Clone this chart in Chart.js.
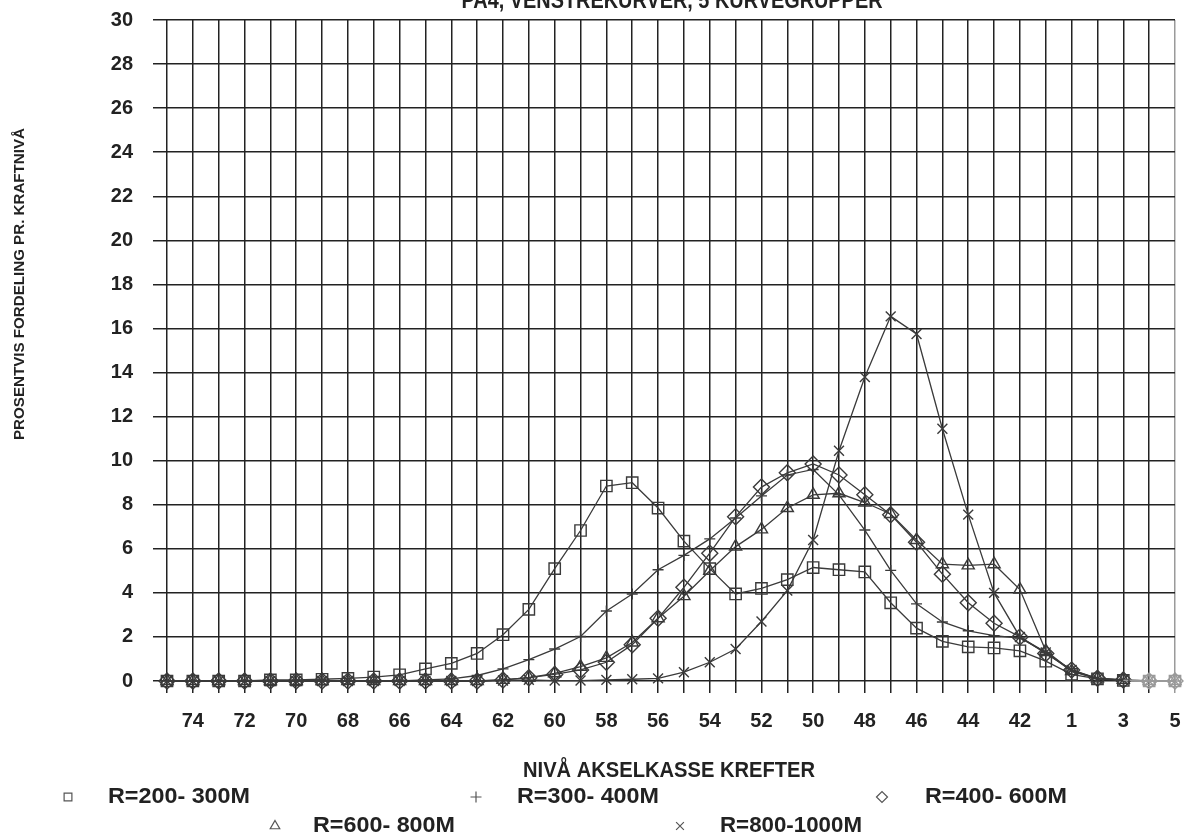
<!DOCTYPE html>
<html>
<head>
<meta charset="utf-8">
<script src="https://cdn.jsdelivr.net/npm/chart.js@4.4.1/dist/chart.umd.min.js"></script>
<style>
  html, body { margin: 0; padding: 0; background: #fff; overflow: hidden; }
  #wrap { position: absolute; left: 0; top: 0; width: 1189px; height: 836px; }
</style>
</head>
<body>
<div id="wrap"><canvas id="c" width="1189" height="836"></canvas></div>
<script>
// Force levels along the x axis (every second one is labelled)
const categories = ['75','74','73','72','71','70','69','68','67','66','65','64','63','62','61','60',
  '59','58','57','56','55','54','53','52','51','50','49','48','47','46','45','44','43','42','41',
  '1','2','3','4','5'];

// Percentage distribution per force level, one array per curve-radius group
const r200_300 = [0,0,0,0,0.05,0.05,0.08,0.12,0.18,0.28,0.55,0.8,1.25,2.1,3.25,5.1,
  6.83,8.85,9.0,7.85,6.35,5.1,3.95,4.2,4.6,5.15,5.05,4.95,3.55,2.4,1.8,1.55,1.5,1.37,0.9,
  0.3,0.1,0.03,0,0];
const r300_400 = [0,0,0,0,0,0,0,0,0,0,0.05,0.1,0.25,0.55,0.97,1.45,
  2.02,3.18,3.95,5.05,5.7,6.45,7.4,8.4,9.35,9.6,8.45,6.85,5.02,3.5,2.68,2.28,2.06,1.95,1.3,
  0.45,0.1,0.05,0,0];
const r400_600 = [0,0,0,0,0,0,0,0,0,0,0,0,0,0.05,0.15,0.3,
  0.5,0.85,1.65,2.85,4.25,5.8,7.45,8.8,9.45,9.85,9.35,8.45,7.55,6.3,4.85,3.55,2.62,2.0,1.25,
  0.5,0.12,0.05,0,0];
const r600_800 = [0,0,0,0,0,0,0,0,0,0,0,0,0,0.05,0.15,0.35,
  0.65,1.05,1.75,2.85,3.85,5.0,6.1,6.88,7.85,8.45,8.52,8.1,7.58,6.4,5.3,5.25,5.3,4.15,1.37,
  0.45,0.12,0.05,0,0];
const r800_1000 = [0,0,0,0,0,0,0,0,0,0,0,0,0,0.02,0.05,0.02,
  0.02,0.05,0.08,0.12,0.4,0.85,1.45,2.7,4.1,6.4,10.45,13.8,16.55,15.75,11.45,7.55,4.0,2.0,1.3,
  0.5,0.1,0.05,0,0];

// Y axis ticks
const yTicks = [0,2,4,6,8,10,12,14,16,18,20,22,24,26,28,30];

const seriesLabels = ['R=200- 300M','R=300- 400M','R=400- 600M','R=600- 800M','R=800-1000M'];
const seriesValues = [r200_300, r300_400, r400_600, r600_800, r800_1000];
const seriesMarkers = ['rect','cross','rectRot','triangle','crossRot'];
const markerRadius = [8, 5.5, 8, 7, 7];

const titleText = 'PA4, VENSTREKURVER, 5 KURVEGRUPPER';
const xTitleText = 'NIVÅ AKSELKASSE KREFTER';
const yTitleText = 'PROSENTVIS FORDELING PR. KRAFTNIVÅ';

const INK = '#222222';
const LINE = '#3a3a3a';
const FADED = '#9a9a9a';
const SANS = "'Liberation Sans', Arial, Helvetica, sans-serif";

// Legend layout: two staggered rows
const legendSlots = [
  { sx: 68,  tx: 108, y: 797 },
  { sx: 476, tx: 517, y: 797 },
  { sx: 882, tx: 925, y: 797 },
  { sx: 275, tx: 313, y: 826 },
  { sx: 680, tx: 720, y: 826 }
];

// Bold lettering squeezed/stretched to a given run length
function fittedText(ctx, text, x, y, font, runWidth, align) {
  ctx.save();
  ctx.font = font;
  ctx.textAlign = align;
  const squeeze = runWidth / ctx.measureText(text).width;
  ctx.translate(x, y);
  ctx.scale(squeeze, 1);
  ctx.fillText(text, 0, 0);
  ctx.restore();
}

// the two right-most levels are printed faintly
const markColor = (c) => (c.dataIndex >= categories.length - 2 ? FADED : LINE);

const datasets = seriesValues.map((vals, i) => ({
  label: seriesLabels[i],
  data: vals,
  borderColor: LINE,
  borderWidth: 1.3,
  pointStyle: seriesMarkers[i],
  pointRadius: markerRadius[i],
  pointBorderColor: markColor,
  pointBorderWidth: 1.4,
  pointBackgroundColor: 'rgba(0,0,0,0)',
  segment: { borderColor: (c) => (c.p1DataIndex >= categories.length - 2 ? FADED : LINE) },
  tension: 0,
  fill: false,
  clip: false
}));

const textPlugin = {
  id: 'textPlugin',
  afterDraw(chart) {
    const ctx = chart.ctx;
    ctx.save();
    ctx.fillStyle = INK;
    // title (runs off the top edge of the page)
    ctx.textBaseline = 'alphabetic';
    fittedText(ctx, titleText, 672, 8, 'bold 24px ' + SANS, 421, 'center');
    // x axis title
    ctx.textBaseline = 'middle';
    fittedText(ctx, xTitleText, 669, 771, 'bold 22px ' + SANS, 292, 'center');
    // y axis title
    ctx.save();
    ctx.translate(20, 284);
    ctx.rotate(-Math.PI / 2);
    ctx.textBaseline = 'middle';
    fittedText(ctx, yTitleText, 0, 0, 'bold 14px ' + SANS, 312, 'center');
    ctx.restore();
    // legend
    chart.data.datasets.forEach((ds, i) => {
      const s = legendSlots[i];
      ctx.fillStyle = 'rgba(0,0,0,0)';
      ctx.strokeStyle = '#555';
      ctx.lineWidth = 1.2;
      Chart.helpers.drawPoint(ctx, {
        pointStyle: ds.pointStyle, radius: 5.5, borderWidth: 1.2, rotation: 0
      }, s.sx, s.y);
      ctx.fillStyle = INK;
      ctx.textBaseline = 'middle';
      fittedText(ctx, ds.label, s.tx, s.y, 'bold 22px ' + SANS, 142, 'left');
    });
    ctx.restore();
  }
};

new Chart(document.getElementById('c'), {
  type: 'line',
  data: { labels: categories, datasets },
  options: {
    responsive: false,
    devicePixelRatio: 1,
    animation: false,
    layout: { autoPadding: false, padding: { top: 20, right: 14, left: 0, bottom: 0 } },
    plugins: { legend: { display: false }, tooltip: { enabled: false }, title: { display: false } },
    scales: {
      x: {
        type: 'category',
        offset: false,
        afterFit(scale) {
          scale.height = 155;
          scale.paddingLeft = 0;
          scale.paddingRight = 0;
        },
        grid: {
          color: (c) => c.index === categories.length - 1 ? FADED : INK,
          lineWidth: 1.5,
          drawTicks: true,
          tickLength: 12
        },
        border: { display: false },
        ticks: {
          autoSkip: false,
          maxRotation: 0,
          minRotation: 0,
          padding: 16,
          color: INK,
          font: { family: SANS, size: 20, weight: 'bold' },
          callback: (v, i) => (i % 2 === 1 ? categories[i] : '')
        }
      },
      y: {
        min: yTicks[0],
        max: yTicks[yTicks.length - 1],
        afterFit(scale) {
          scale.width = 167;
          scale.paddingTop = 0;
          scale.paddingBottom = 0;
        },
        afterBuildTicks(scale) { scale.ticks = yTicks.map(v => ({ value: v })); },
        grid: { color: INK, lineWidth: 1.5, drawTicks: true, tickLength: 14 },
        border: { display: false },
        ticks: {
          padding: 20,
          color: INK,
          font: { family: SANS, size: 20, weight: 'bold' }
        }
      }
    }
  },
  plugins: [textPlugin]
});
</script>
</body>
</html>
